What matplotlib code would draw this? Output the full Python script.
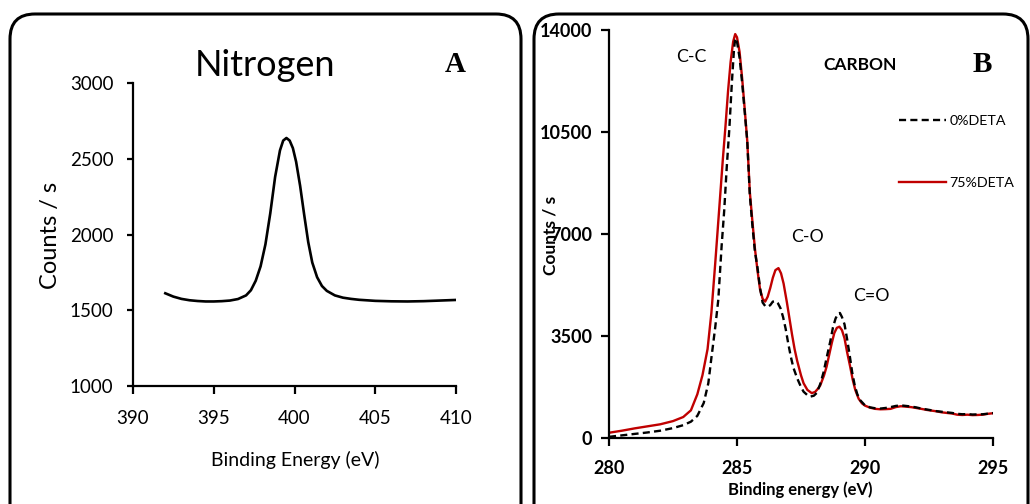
import matplotlib
matplotlib.use('Agg')
import matplotlib.pyplot as plt
from matplotlib.patches import FancyBboxPatch

plt.rcParams['font.family'] = ['Lato', 'DejaVu Sans']

# N 1s spectrum
n_energy = [392.0, 392.5, 393.0, 393.5, 394.0, 394.5, 395.0, 395.5, 396.0, 396.5,
            397.0, 397.3, 397.6, 397.9, 398.2, 398.5, 398.8, 399.1, 399.3, 399.5,
            399.7, 399.9, 400.1, 400.35, 400.6, 400.85, 401.1, 401.4, 401.7, 402.0,
            402.5, 403.0, 403.5, 404.0, 405.0, 406.0, 407.0, 408.0, 409.0, 410.0]
n_counts = [1612, 1590, 1575, 1566, 1561, 1558, 1558, 1560, 1564, 1574,
            1598, 1632, 1695, 1790, 1935, 2140, 2380, 2555, 2620, 2637,
            2620, 2570, 2480, 2320, 2130, 1950, 1815, 1718, 1660, 1628,
            1598, 1583, 1575, 1569, 1562, 1559, 1558, 1560, 1564, 1568]

# C 1s spectra
c_energy_0 = [280.0, 280.5, 281.0, 281.5, 282.0, 282.5, 282.9, 283.2, 283.45, 283.7,
              283.88, 284.0, 284.15, 284.27, 284.4, 284.5, 284.6, 284.7, 284.8, 284.88,
              284.93, 285.0, 285.1, 285.2, 285.3, 285.4, 285.5, 285.6, 285.7, 285.8,
              285.9, 286.0, 286.1, 286.2, 286.3, 286.4, 286.5, 286.6, 286.7, 286.8,
              286.9, 287.0, 287.1, 287.2, 287.35, 287.5, 287.6, 287.75, 287.86, 288.0,
              288.12, 288.25, 288.38, 288.5, 288.64, 288.75, 288.85, 288.95, 289.02, 289.1,
              289.2, 289.3, 289.4, 289.5, 289.6, 289.7, 289.81, 290.0, 290.2, 290.4,
              290.6, 290.8, 291.0, 291.2, 291.4, 291.6, 291.8, 292.0, 292.2, 292.4,
              292.6, 292.8, 293.0, 293.2, 293.4, 293.6, 293.8, 294.0, 294.2, 294.4,
              294.6, 294.8, 295.0]
c_counts_0 = [40, 90, 140, 190, 250, 340, 440, 560, 760, 1200,
              1880, 2750, 3800, 4750, 6600, 7800, 9300, 10600, 12200, 13300,
              13720, 13600, 13050, 12200, 11200, 10200, 8350, 7300, 6400, 5850,
              5150, 4650, 4530, 4500, 4560, 4680, 4700, 4620, 4450, 4150,
              3750, 3250, 2800, 2420, 2050, 1750, 1590, 1470, 1420, 1450,
              1550, 1850, 2250, 2750, 3300, 3800, 4100, 4270, 4290, 4150,
              3900, 3400, 2850, 2250, 1800, 1500, 1300, 1120, 1050, 1020,
              1010, 1030, 1060, 1100, 1120, 1100, 1080, 1050, 1010, 980,
              950, 920, 900, 880, 860, 830, 815, 820, 805, 810,
              815, 835, 855]

c_energy_75 = [280.0, 280.5, 281.0, 281.5, 282.0, 282.5, 282.9, 283.2, 283.45, 283.65,
               283.85, 284.0, 284.15, 284.3, 284.45, 284.55, 284.65, 284.75, 284.85, 284.93,
               285.0, 285.1, 285.2, 285.3, 285.4, 285.5, 285.6, 285.7, 285.8, 285.9,
               286.0, 286.1, 286.2, 286.3, 286.4, 286.5, 286.62, 286.72, 286.82, 286.95,
               287.05, 287.15, 287.25, 287.35, 287.5, 287.6, 287.75, 287.92, 288.05, 288.15,
               288.25, 288.4, 288.5, 288.6, 288.7, 288.8, 288.9, 289.0, 289.1, 289.2,
               289.3, 289.42, 289.52, 289.62, 289.75, 289.88, 290.0, 290.2, 290.4, 290.6,
               290.8, 291.0, 291.2, 291.4, 291.6, 291.8, 292.0, 292.2, 292.4, 292.6,
               292.8, 293.0, 293.2, 293.4, 293.6, 293.8, 294.0, 294.2, 294.4, 294.6,
               294.8, 295.0]
c_counts_75 = [180, 250, 330, 400, 470, 580, 720, 950, 1500, 2150,
               3050, 4300, 6000, 7800, 9600, 10700, 11900, 12900, 13600, 13860,
               13750, 13250, 12350, 11300, 10200, 8450, 7450, 6500, 5750, 5100,
               4780, 4680, 4850, 5150, 5500, 5760, 5830, 5650, 5300, 4650,
               4100, 3550, 3050, 2650, 2150, 1880, 1650, 1540, 1580, 1680,
               1800, 2150, 2450, 2850, 3250, 3600, 3780, 3820, 3700, 3420,
               2950, 2450, 2000, 1650, 1350, 1190, 1110, 1040, 1000, 985,
               990, 1000, 1060, 1090, 1075, 1060, 1030, 1000, 965, 940,
               915, 880, 860, 840, 800, 790, 800, 785, 790, 800,
               830, 850]

fig = plt.figure(figsize=(10.3, 5.04), dpi=100)

# rounded frames round each panel
for x0, w in [(0.10, 5.11), (5.34, 4.94)]:
    fig.add_artist(FancyBboxPatch((x0, -0.6), w, 5.50,
                                  boxstyle='round,pad=0,rounding_size=0.25',
                                  transform=fig.dpi_scale_trans, fill=False,
                                  lw=2.2, ec='black', clip_on=False))

def fx(px):
    return px / 1030

def fy(py):
    return 1 - py / 504

# panel A
ax1 = fig.add_axes([fx(133), fy(386), fx(456) - fx(133), fy(83) - fy(386)])
ax1.plot(n_energy, n_counts, color='black', lw=1.9)
ax1.set_xlim(390, 410)
ax1.set_ylim(1000, 3000)
ax1.set_xticks([390, 395, 400, 405, 410])
ax1.set_yticks([1000, 1500, 2000, 2500, 3000])
for s in ['top', 'right']:
    ax1.spines[s].set_visible(False)
for s in ['left', 'bottom']:
    ax1.spines[s].set_linewidth(1.6)
ax1.tick_params(axis='y', direction='out', length=4, width=1.6, pad=10, labelsize=13.5)
ax1.tick_params(axis='x', direction='out', length=6, width=1.6, pad=11, labelsize=13.5)
fig.text(fx(50), fy(235), 'Counts / s', rotation=90, ha='center', va='center', fontsize=17)
fig.text(fx(295), fy(460), 'Binding Energy (eV)', ha='center', va='center', fontsize=14)
fig.text(fx(265), fy(66), 'Nitrogen', ha='center', va='center', fontsize=26)
fig.text(fx(455), fy(64), 'A', ha='center', va='center', fontsize=21,
         fontweight='bold', family='Liberation Serif')

# panel B
ax2 = fig.add_axes([fx(609), fy(438), fx(993) - fx(609), fy(30) - fy(438)])
ax2.plot(c_energy_75, c_counts_75, color='#c00000', lw=1.7, label='75%DETA', zorder=2)
ax2.plot(c_energy_0, c_counts_0, color='black', lw=1.7, dashes=(3, 1.8),
         label='0%DETA', zorder=3)
ax2.set_xlim(280, 295)
ax2.set_ylim(0, 14000)
ax2.set_xticks([280, 285, 290, 295])
ax2.set_yticks([0, 3500, 7000, 10500, 14000])
for s in ['top', 'right']:
    ax2.spines[s].set_visible(False)
for s in ['left', 'bottom']:
    ax2.spines[s].set_linewidth(1.6)
ax2.tick_params(axis='y', direction='out', length=6, width=1.6, pad=6, labelsize=13)
ax2.tick_params(axis='x', direction='out', length=6, width=1.6, pad=10, labelsize=13)
for lab in ax2.get_xticklabels() + ax2.get_yticklabels():
    lab.set_fontweight('bold')
handles, labels = ax2.get_legend_handles_labels()
ax2.legend(handles[::-1], labels[::-1], loc='upper left', bbox_to_anchor=(0.74, 0.805),
           frameon=False, fontsize=10.3, handlelength=3.3, handletextpad=0.25,
           labelspacing=3.5, borderaxespad=0)

# the y label sits over the 7000 tick label, as laid out in the original figure
fig.text(fx(550), fy(235), 'Counts / s', rotation=90, ha='center', va='center',
         fontsize=12.5, fontweight='bold')
fig.text(fx(800), fy(490), 'Binding energy (eV)', ha='center', va='center',
         fontsize=12, fontweight='bold')
fig.text(fx(691), fy(57), 'C-C', ha='center', va='center', fontsize=12.8)
fig.text(fx(860), fy(65), 'CARBON', ha='center', va='center', fontsize=12.5, fontweight='bold')
fig.text(fx(807), fy(237), 'C-O', ha='center', va='center', fontsize=12.8)
fig.text(fx(871), fy(296), 'C=O', ha='center', va='center', fontsize=12.8)
fig.text(fx(982), fy(64), 'B', ha='center', va='center', fontsize=21,
         fontweight='bold', family='Liberation Serif')

fig.savefig('out.png', dpi=100)
